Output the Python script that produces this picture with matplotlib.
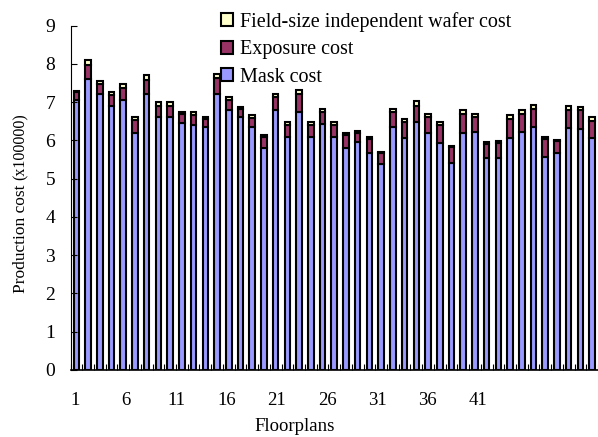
import matplotlib.pyplot as plt
import numpy as np

plt.rcParams['font.family'] = ['Liberation Serif', 'DejaVu Serif']

# cost per floorplan, in units of 100000
mask_cost = [7.05, 7.60, 7.20, 6.90, 7.05, 6.20, 7.20, 6.60, 6.60, 6.45,
             6.40, 6.35, 7.20, 6.80, 6.60, 6.35, 5.80, 6.78, 6.08, 6.75,
             6.08, 6.43, 6.08, 5.80, 5.95, 5.68, 5.38, 6.36, 6.06, 6.47,
             6.20, 5.94, 5.42, 6.18, 6.22, 5.53, 5.55, 6.06, 6.21, 6.35,
             5.56, 5.68, 6.32, 6.29, 6.06]
exposure_cost = [0.20, 0.38, 0.27, 0.28, 0.33, 0.32, 0.38, 0.30, 0.30, 0.25,
                 0.27, 0.22, 0.42, 0.26, 0.23, 0.24, 0.28, 0.35, 0.33, 0.45,
                 0.32, 0.30, 0.32, 0.33, 0.25, 0.35, 0.30, 0.38, 0.42, 0.43,
                 0.40, 0.45, 0.40, 0.50, 0.38, 0.37, 0.37, 0.50, 0.49, 0.47,
                 0.47, 0.30, 0.48, 0.49, 0.45]
wafer_cost = [0.05, 0.12, 0.08, 0.07, 0.10, 0.08, 0.12, 0.10, 0.10, 0.05,
              0.06, 0.05, 0.10, 0.07, 0.05, 0.06, 0.05, 0.09, 0.07, 0.12,
              0.07, 0.09, 0.07, 0.07, 0.05, 0.07, 0.02, 0.08, 0.07, 0.12,
              0.08, 0.08, 0.04, 0.10, 0.08, 0.05, 0.06, 0.09, 0.10, 0.10,
              0.07, 0.02, 0.10, 0.10, 0.09]
floorplans = np.arange(1, len(mask_cost) + 1)
tick_values = np.arange(1, 42, 5)
tick_labels = [str(i) for i in tick_values]

mask = np.array(mask_cost)
expo = np.array(exposure_cost)
wafer = np.array(wafer_cost)

fig = plt.figure(figsize=(5.98, 4.37), dpi=100)
ax = fig.add_axes([70.5 / 598, 67 / 437, 527.5 / 598, 344.5 / 437])

bar_kw = dict(width=0.47, edgecolor='black', linewidth=1.5)
b1 = ax.bar(floorplans, mask, color='#9999FF', label='Mask cost', **bar_kw)
b2 = ax.bar(floorplans, expo, bottom=mask, color='#993366', label='Exposure cost', **bar_kw)
b3 = ax.bar(floorplans, wafer, bottom=mask + expo, color='#FFFFCC',
            label='Field-size independent wafer cost', **bar_kw)

ax.set_xlim(0.5, 45.5)
ax.set_ylim(0, 9)
ax.set_yticks(range(0, 10))

# the category labels in the original sit on a squeezed scale (~0.86 of the bar pitch)
squeeze = 0.858
ax.set_xticks(0.5 + (tick_values - 0.5) * squeeze, labels=tick_labels)
ax.set_xticks(np.arange(0.5, 46, 1), minor=True)
ax.tick_params(axis='x', which='major', length=0, pad=16, labelsize=13.5)
ax.tick_params(axis='x', which='minor', direction='in', length=4, width=0.8)
ax.tick_params(axis='y', direction='in', length=4, width=0.8, pad=11, labelsize=14)

for side in ['top', 'right']:
    ax.spines[side].set_visible(False)
ax.spines['left'].set_linewidth(0.8)
ax.spines['bottom'].set_linewidth(1.2)

ax.set_xlabel('Floorplans', fontsize=13.5, va='top')
ax.xaxis.set_label_coords(0.425, -0.14)

# y label with smaller unit part
ylab = fig.text(21 / 598, 1 - 293 / 437, 'Production cost ', rotation=90, fontsize=12.5,
                ha='center', va='bottom')
ax.annotate('(x100000)', xy=(0.5, 1), xycoords=ylab, rotation=90, fontsize=11.5,
            ha='center', va='bottom')

ax.legend(handles=[b3, b2, b1], loc='upper left', frameon=False,
          bbox_to_anchor=(221 / 598, 1 - 12 / 437), bbox_transform=fig.transFigure,
          fontsize=14.5, handlelength=0.62, handleheight=0.62, handletextpad=0.3,
          labelspacing=0.42, borderpad=0, borderaxespad=0)

fig.savefig('out.png', dpi=100)
